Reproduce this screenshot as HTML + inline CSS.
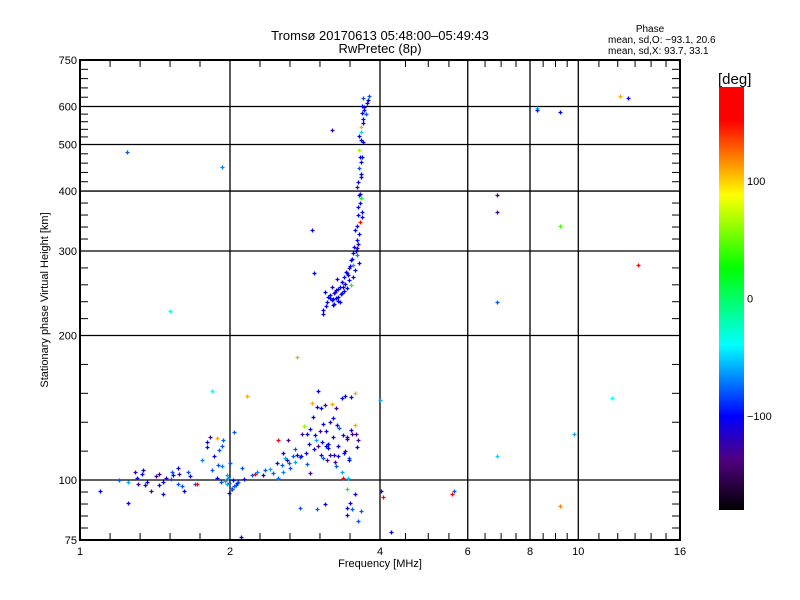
<!DOCTYPE html>
<html><head><meta charset="utf-8"><style>
body{margin:0;background:#fff;}
svg{display:block;font-family:"Liberation Sans",sans-serif;}
</style></head><body>
<svg id="chart" width="800" height="600" viewBox="0 0 800 600" xmlns="http://www.w3.org/2000/svg">
<rect x="0" y="0" width="800" height="600" fill="#fff"/>
<text x="380" y="40" font-size="13" text-anchor="middle">Tromsø 20170613 05:48:00–05:49:43</text>
<text x="380" y="53" font-size="13" text-anchor="middle">RwPretec (8p)</text>
<text x="650" y="32" font-size="10" text-anchor="middle">Phase</text>
<text x="608" y="43" font-size="10">mean, sd,O: −93.1, 20.6</text>
<text x="608" y="54" font-size="10">mean, sd,X:  93.7, 33.1</text>
<defs>
<linearGradient id="cmap" x1="0" y1="1" x2="0" y2="0">
<stop offset="0" stop-color="#000000"/>
<stop offset="0.12" stop-color="#500080"/>
<stop offset="0.222" stop-color="#0000ff"/>
<stop offset="0.39" stop-color="#00ffff"/>
<stop offset="0.572" stop-color="#00ff00"/>
<stop offset="0.745" stop-color="#ffff00"/>
<stop offset="0.92" stop-color="#ff0000"/>
<stop offset="1" stop-color="#ff0000"/>
</linearGradient>
</defs>
<rect x="719" y="87" width="25" height="423" fill="url(#cmap)"/>
<text x="718" y="84" font-size="15">[deg]</text>
<g id="cbticks" font-size="11"></g>
<g id="grid"></g>
<g id="points"></g>
<g id="axes"></g>
<text x="380" y="567" font-size="11" text-anchor="middle">Frequency [MHz]</text>
<text transform="translate(48,300) rotate(-90)" font-size="11" text-anchor="middle">Stationary phase Virtual Height [km]</text>
</svg>
<script>
const freqs=[1.097,1.25,1.25,1.29,1.3,1.31,1.33,1.34,1.35,1.39,1.44,1.44,1.47,1.49,1.52,1.54,1.57,1.58,1.57,1.62,1.65,1.70,1.72,1.80,1.80,1.82,1.84,1.88,1.9,1.93,1.94,1.88,1.89,1.93,1.97,1.99,1.97,2.0,2.04,1.99,2.03,2.06,2.07,2.11,2.13,2.21,2.24,2.33,2.35,2.41,2.44,2.48,2.5,2.5,2.54,2.56,2.58,2.62,2.63,2.68,2.72,2.76,2.79,2.82,2.85,2.84,2.9,2.92,2.9,2.93,2.96,2.99,3.0,3.03,3.04,3.06,3.07,3.1,3.12,3.13,3.15,3.17,3.2,3.22,3.22,3.24,3.27,3.28,3.31,3.36,3.37,3.41,3.43,3.47,3.5,3.52,3.57,3.58,3.62,3.56,3.37,3.45,3.43,3.56,3.48,2.76,2.99,3.1,3.43,3.52,3.43,3.66,3.62,4.0,4.02,4.06,4.2,2.1,
1.24,1.93,1.516,1.84,2.16,2.73,2.92,3.2,2.95,6.86,6.86,6.86,6.86,8.26,8.28,9.2,9.2,9.2,9.8,11.7,12.1,12.6,13.2,5.57,5.62,
3.8,3.78,3.77,3.7,3.68,3.71,3.75,3.68,3.7,3.7,3.66,3.66,3.63,3.66,3.63,3.65,3.66,3.63,3.66,3.62,3.6,3.63,3.66,3.62,3.68,3.62,3.68,3.65,3.56,3.63,3.6,3.55,3.6,3.53,3.6,3.5,3.63,3.53,3.47,3.56,3.43,3.53,3.38,3.47,3.36,3.5,3.43,3.3,3.36,3.24,3.27,3.2,3.33,3.13,3.22,3.07,3.12,3.07,3.1,3.15,3.37,
1.2,1.36,1.42,1.6,1.76,1.86,1.95,2.02,2.08,2.27,2.6,2.7,2.88,3.0,3.08,3.18,3.3,3.4,3.5,3.35,3.25,3.15,
3.18,3.22,3.26,3.3,3.34,3.4,3.45,3.28,3.32,3.38,3.2,3.25,3.17,3.23,3.29,3.35,3.42,3.48,3.52,3.58,3.6,3.64,3.66,3.69,3.72,3.61,3.65,3.68,
2.64,2.7,2.78,2.86,2.95,3.05,3.14,3.26,3.38,3.46,3.6,2.55,2.98,3.12,3.3,3.44,1.92,1.98,2.01,2.04,1.47,1.53,1.66];
const heights=[95,89.5,99,104,101,98,103,105,97.5,95,103,97.5,93.5,101,100.5,102.5,106,103,98,95,104,98,98,120,117,123,105,122.5,115.5,118,121,101,107.5,107,102.5,98.5,98,108.5,126,94,100,97.5,98.5,106,100.5,102.5,103,102.5,105,105.5,103.5,108.5,121,101,107.5,114,111,121,108.5,112,113,111.5,125,129.5,125,114,127.5,145,103.5,135,124,142,153,126.5,141,120,111,143,126.5,110,116.5,132,144,123,134.5,113,141,130,128.5,148,124,150,123,111,149,125,130.5,125,121,152,101,101,96,93.5,89.5,87.5,87,89,87.5,87,84.5,86,82,147,95,92,78,76,
483,449,225,153,150,180,332,535,270,392,362,235,112,596,590,584,338,88.4,125,148,630,625,280,93.5,95,
632,620,610,625,602,600,580,583,566,555,545,532,520,511,487,471,460,447,427,417,407,392,387,370,362,356,353,345,332,326,316,306,305,297,294,287,283,280,276,274,270,265,265,261,259,255,251,250,245,245,240,237,235,235,231,226,230,222,247,241,252,
100,99,102,97,110,112,99.5,96,99,104,110,116,119,118,131,113,118,115,127,104,109,119,
243,238,249,236,244,256,268,262,253,248,252,246,240,233,241,258,271,279,289,300,338,378,435,505,590,310,395,470,
106,109,112,108,116,113,119,107,114,110,117,104,121,118,112,122,99,101,96,97,99,104,102];
const phases=[-100,-100,-60,-120,-100,-130,-100,-100,-110,-130,-130,-100,-100,-120,-80,-100,-100,-130,-80,-100,-80,-80,150,-100,-100,-130,-80,110,-80,-80,-80,-100,-80,-70,-60,-80,-60,-80,-80,-100,-100,-80,-100,-80,-100,-80,170,-100,-80,-60,-80,-100,170,-70,-80,-100,-60,-130,-80,-80,-100,-80,-130,60,-100,-100,-100,110,-130,-100,-100,-100,-100,-130,-100,-100,-80,-130,-100,-130,-100,-120,110,-100,-100,-120,-130,-100,-80,-100,-100,-100,-130,-80,-100,-130,110,-130,-130,110,150,-50,20,-100,-100,-80,-80,-100,-100,-80,-100,-80,-80,-60,-100,150,-100,-100,
-80,-70,-40,-40,110,110,-100,-130,-100,-130,-130,-80,-50,-50,-100,-100,40,120,-60,-40,110,-100,150,170,-80,
-80,-100,-100,-80,-100,-100,-80,-100,-100,-100,110,-50,-100,-100,60,-100,-100,-80,-100,-100,-130,-100,20,-100,-100,-100,-100,150,-100,-100,-100,-100,-130,-100,-70,-100,-100,-60,-130,-100,-100,-100,-100,-100,-100,30,-100,-100,-100,-130,-100,-100,-100,-100,-100,-100,-100,-100,-100,-100,-100,
-80,-100,-130,-80,-70,-100,-60,-100,-80,-70,-100,-80,-100,-130,-100,-120,-100,-130,-100,-60,-130,-100,
-100,-100,-110,-100,-100,-100,-110,-100,-100,-100,-110,-100,-100,-100,-100,-110,-100,-100,-100,-100,-100,-100,-100,-100,-100,-100,-100,-100,
-80,-60,-100,-80,-100,-110,-100,-80,-100,-100,-100,-70,-60,-100,-110,-100,-80,-60,-70,-80,-100,-80,-110];
const xMajorVals=[1,2,4,6,8,10,16];
const xMajorLabels=["1","2","4","6","8","10","16"];
const yMajorVals=[75,100,200,300,400,500,600,750];
const yMajorLabels=["75","100","200","300","400","500","600","750"];
const cbVals=[100,0,-100];
const cbLabels=["100","0","−100"];

const NS="http://www.w3.org/2000/svg";
const X0=80,X1=680,Y0=540,Y1=60;
function xs(f){return X0+(X1-X0)*Math.log2(f)/Math.log2(16);}
function ys(h){return Y0-(Y0-Y1)*Math.log10(h/75)/Math.log10(10);}
function mk(tag,attrs,parent){const e=document.createElementNS(NS,tag);for(const k in attrs)e.setAttribute(k,attrs[k]);parent.appendChild(e);return e;}
const stops=[[0,[0,0,0]],[0.12,[80,0,128]],[0.222,[0,0,255]],[0.39,[0,255,255]],[0.572,[0,255,0]],[0.745,[255,255,0]],[0.92,[255,0,0]],[1,[255,0,0]]];
function cmap(p){let t=(p+180)/360;t=Math.max(0,Math.min(1,t));for(let i=1;i<stops.length;i++){if(t<=stops[i][0]){const a=stops[i-1],b=stops[i];const u=(t-a[0])/(b[0]-a[0]);const c=a[1].map((v,j)=>Math.round(v+(b[1][j]-v)*u));return `rgb(${c[0]},${c[1]},${c[2]})`;}}return "rgb(255,0,0)";}

const grid=document.getElementById('grid');
xMajorVals.forEach((v,i)=>{
  const x=xs(v);
  if(i>0&&i<xMajorVals.length-1){const l=mk('line',{x1:x,y1:Y1,x2:x,y2:Y0,stroke:'#000','stroke-width':1.3},grid);
  
  }
  const t=mk('text',{x:x,y:Y0+15,'font-size':11,'text-anchor':'middle'},grid);t.textContent=xMajorLabels[i];
  
  
});
yMajorVals.forEach((v,i)=>{
  const y=ys(v);
  if(i>0&&i<yMajorVals.length-1){const l=mk('line',{x1:X0,y1:y,x2:X1,y2:y,stroke:'#000','stroke-width':1.3},grid);
  
  }
  const t=mk('text',{x:X0-3,y:y+4,'font-size':11,'text-anchor':'end'},grid);t.textContent=yMajorLabels[i];
  
  
});
const axes=document.getElementById('axes');
for(let i=0;i<yMajorVals.length-1;i++){
  const ya=ys(yMajorVals[i]),yb=ys(yMajorVals[i+1]);
  for(let k=1;k<5;k++){const y=ya+(yb-ya)*k/5;
    const a=mk('line',{x1:X0,y1:y,x2:X0+8,y2:y,stroke:'#000'},axes);
    
    
    const b=mk('line',{x1:X1-8,y1:y,x2:X1,y2:y,stroke:'#000'},axes);
    
    }
}
const xMinor=[1.149,1.32,1.516,1.741,2.297,2.639,3.031,3.482,4.5,5,5.5,6.5,7,7.5,8.5,9,9.5,11,12,13,14,15];
xMinor.forEach(f=>{const x=xs(f);
  const a=mk('line',{x1:x,y1:Y0,x2:x,y2:Y0-7,stroke:'#000'},axes);
  
  
  const b=mk('line',{x1:x,y1:Y1,x2:x,y2:Y1+7,stroke:'#000'},axes);
  
  });
const fr=mk('rect',{x:X0,y:Y1,width:X1-X0,height:Y0-Y1,fill:'none',stroke:'#000','stroke-width':2},axes);



const pts=document.getElementById('points');
for(let i=0;i<freqs.length;i++){
  const x=Math.round(xs(freqs[i]))+0.5,y=Math.round(ys(heights[i]))+0.5;
  const p=mk('path',{d:`M${x-2} ${y}H${x+2}M${x} ${y-2}V${y+2}`,stroke:cmap(phases[i]),'stroke-width':1.3,fill:'none'},pts);
  
  
}
const cb=document.getElementById('cbticks');
const CB0=510,CB1=87;
function cby(p){return CB0-(CB0-CB1)*(p+180)/360;}
cbVals.forEach((v,i)=>{const t=mk('text',{x:747,y:cby(v)+4,'font-size':11},cb);t.textContent=cbLabels[i];
  
  });
</script>
</body></html>
